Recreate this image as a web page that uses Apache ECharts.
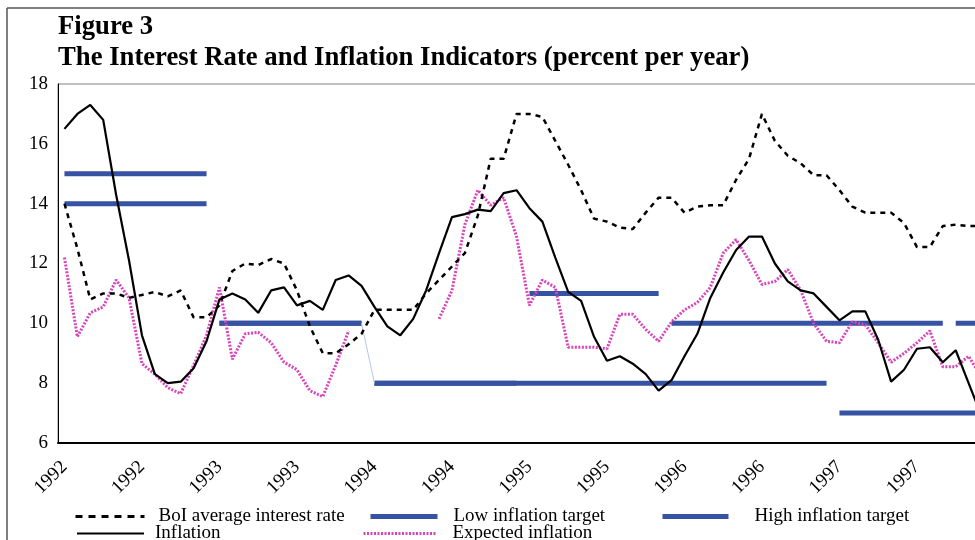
<!DOCTYPE html>
<html>
<head>
<meta charset="utf-8">
<script src="https://cdn.jsdelivr.net/npm/echarts@6/dist/echarts.min.js"></script>
<style>
  html, body { margin: 0; padding: 0; background: #fff; overflow: hidden; }
  #main { width: 990px; height: 540px; }
</style>
</head>
<body>
<div id="main"></div>
<script>
// monthly observations, Jan 1992 - Dec 1997
const years = [1992, 1993, 1994, 1995, 1996, 1997];
const months = [];
years.forEach(function (y) { for (let m = 0; m < 12; m++) months.push(String(y)); });

const boiRate = [14.0, 12.5, 10.8, 11.0, 11.0, 10.85, 10.95, 11.05, 10.9, 11.1, 10.2, 10.2,
  10.6, 11.75, 12.0, 11.95, 12.15, 12.0, 11.1, 9.9, 9.0, 9.0, 9.3, 9.65,
  10.45, 10.45, 10.45, 10.45, 11.0, 11.45, 11.9, 12.35, 13.6, 15.5, 15.5, 17.0,
  17.0, 16.9, 16.1, 15.3, 14.45, 13.5, 13.4, 13.2, 13.15, 13.7, 14.2, 14.2,
  13.7, 13.9, 13.95, 13.95, 14.8, 15.5, 17.0, 16.1, 15.6, 15.35, 14.95, 14.95,
  14.45, 13.9, 13.7, 13.7, 13.7, 13.35, 12.55, 12.55, 13.25, 13.3, 13.25, 13.25];

const inflation = [16.5, 17.0, 17.3, 16.8, 14.3, 12.1, 9.6, 8.3, 8.0, 8.05, 8.5, 9.4,
  10.8, 11.0, 10.8, 10.35, 11.1, 11.2, 10.6, 10.75, 10.45, 11.45, 11.6, 11.25,
  10.55, 9.9, 9.6, 10.15, 11.1, 12.35, 13.55, 13.65, 13.8, 13.75, 14.35, 14.45,
  13.85, 13.4, 12.2, 11.05, 10.75, 9.55, 8.75, 8.9, 8.65, 8.3, 7.75, 8.1,
  8.9, 9.65, 10.85, 11.7, 12.45, 12.9, 12.9, 12.0, 11.4, 11.1, 11.0, 10.55,
  10.1, 10.4, 10.4, 9.45, 8.05, 8.45, 9.15, 9.2, 8.7, 9.1, 8.0, 6.9];

const expected = [12.2, 9.55, 10.35, 10.55, 11.45, 10.85, 8.65, 8.3, 7.85, 7.65, 8.6, 9.6,
  11.2, 8.8, 9.65, 9.7, 9.35, 8.7, 8.45, 7.75, 7.55, 8.6, 9.75, null,
  null, null, null, null, null, 10.15, 11.1, 13.3, 14.45, 13.95, 14.2, 12.9,
  10.6, 11.45, 11.2, 9.2, 9.2, 9.2, 9.15, 10.3, 10.3, 9.8, 9.4, 10.05,
  10.45, 10.7, 11.2, 12.35, 12.8, 12.1, 11.3, 11.4, 11.8, 11.1, 10.0, 9.4,
  9.35, 10.05, 9.95, 9.35, 8.7, 9.0, 9.35, 9.75, 8.55, 8.55, 8.9, 8.2];

function repeat(v, n) { return new Array(n).fill(v); }
const lowTarget = [].concat(repeat(14, 12), repeat(10, 12), repeat(8, 36), repeat(7, 12));
const highTarget = [].concat(repeat(15, 12), repeat(10, 12), repeat(8, 12), repeat(11, 11), repeat(10, 25));
const highBreaks = [68];      // gap after this month
const lowLink = [23, 24];     // thin joining segment 1993 -> 1994

const serif = 'Liberation Serif, Times New Roman, serif';
const blue = '#3653a3';

// one line per run of equal target values
function targetRuns(values, name, breaks) {
  const out = [];
  let cur = null;
  values.forEach(function (v, i) {
    if (i === 0 || v !== values[i - 1] || breaks.indexOf(i - 1) >= 0) {
      cur = repeat(null, values.length);
      out.push(cur);
    }
    cur[i] = v;
  });
  return out.map(function (d) {
    return {
      name: name, type: 'line', data: d, symbol: 'none',
      lineStyle: { color: blue, width: 5, cap: 'butt' }
    };
  });
}

const linkData = lowTarget.map(function (v, i) { return lowLink.indexOf(i) >= 0 ? v : null; });

const series = [].concat(
  targetRuns(lowTarget, 'Low inflation target', []),
  targetRuns(highTarget, 'High inflation target', highBreaks),
  [{
    name: 'link', type: 'line', data: linkData, symbol: 'none',
    lineStyle: { color: '#b7c4e6', width: 1 }
  }, {
    name: 'Expected inflation', type: 'line', data: expected, symbol: 'none',
    lineStyle: { color: '#d845bb', width: 3, type: [2, 1.5] }
  }, {
    name: 'BoI average interest rate', type: 'line', data: boiRate, symbol: 'none',
    lineStyle: { color: '#000', width: 2.5, type: [5, 5] }
  }, {
    name: 'Inflation', type: 'line', data: inflation, symbol: 'none',
    lineStyle: { color: '#000', width: 2.2 }
  }]
);

function legendAt(name, left, top, w, gap, lw, dash) {
  return {
    data: [name], left: left, top: top, padding: 0,
    itemWidth: w, itemHeight: 14,
    lineStyle: { width: lw, type: dash || 'solid' },
    itemStyle: { opacity: 0 },
    textStyle: { fontFamily: serif, fontSize: 19, color: '#000', padding: [0, 0, 0, gap] }
  };
}

const chart = echarts.init(document.getElementById('main'));
chart.setOption({
  animation: false,
  title: {
    text: 'Figure 3\nThe Interest Rate and Inflation Indicators (percent per year)',
    left: 58, top: 12, padding: 0,
    textStyle: { fontFamily: serif, fontSize: 26.7, fontWeight: 'bold', lineHeight: 31, color: '#000' }
  },
  graphic: [
    { type: 'line', shape: { x1: 7, y1: 8, x2: 990, y2: 8 }, style: { stroke: '#555', lineWidth: 1.5 } },
    { type: 'line', shape: { x1: 7, y1: 8, x2: 7, y2: 540 }, style: { stroke: '#555', lineWidth: 1.5 } }
  ],
  legend: [
    legendAt('BoI average interest rate', 74, 507, 69, 9, 3, [7, 6]),
    legendAt('Inflation', 76, 524, 67, 6, 2),
    legendAt('Low inflation target', 368, 507, 67, 11, 5),
    legendAt('Expected inflation', 362, 524, 73, 11, 3, [2, 1.5]),
    legendAt('High inflation target', 660, 507, 66, 21, 5)
  ],
  grid: {
    left: 58, top: 84, right: 2, bottom: 97,
    show: true, borderColor: '#808080', borderWidth: 1
  },
  xAxis: {
    type: 'category', data: months, boundaryGap: true,
    axisLine: { lineStyle: { color: '#000', width: 2 } },
    axisTick: { interval: 5, length: 6, lineStyle: { color: '#000' } },
    axisLabel: { interval: 5, rotate: 45, margin: 21, fontFamily: serif, fontSize: 19, color: '#000' },
    splitLine: { show: false }
  },
  yAxis: {
    type: 'value', min: 6, max: 18, interval: 2,
    axisLine: { show: true, lineStyle: { color: '#000', width: 1 } },
    axisTick: { show: false },
    splitLine: { show: false },
    axisLabel: { margin: 10, fontFamily: serif, fontSize: 19, color: '#000' }
  },
  series: series
});
</script>
</body>
</html>
